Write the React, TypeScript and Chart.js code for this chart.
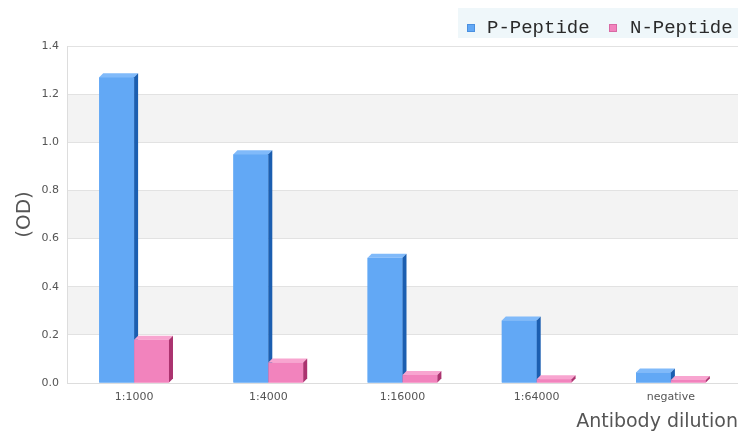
import React, { useEffect, useRef } from "react";
import { Chart, registerables } from "chart.js";

Chart.register(...registerables);

const categories = ["1:1000", "1:4000", "1:16000", "1:64000", "negative"];
const pPeptide = [1.27, 0.95, 0.52, 0.26, 0.044];
const nPeptide = [0.18, 0.085, 0.033, 0.016, 0.012];
const seriesNames = ["P-Peptide", "N-Peptide"];

const FRONT = ["#62a8f5", "#f283bd"];
const TOP = ["#80bafa", "#f8a5d0"];
const SIDE = ["#1b5eb0", "#ab336f"];
const MARKER_BORDER = ["#4a90e0", "#d86aa4"];
const DEPTH = 4;

const bandsPlugin = {
  id: "bands",
  beforeDraw(chart: any) {
    const { ctx, chartArea } = chart;
    const y = chart.scales.y;
    const ticks = y.ticks;
    ctx.save();
    ctx.fillStyle = "#f3f3f3";
    for (let i = 1; i < ticks.length - 1; i += 2) {
      const a = y.getPixelForValue(ticks[i].value);
      const b = y.getPixelForValue(ticks[i + 1].value);
      ctx.fillRect(chartArea.left, b, chartArea.right - chartArea.left, a - b);
    }
    ctx.restore();
  },
};

const legendPlugin = {
  id: "customLegend",
  afterDraw(chart: any) {
    const ctx = chart.ctx;
    ctx.save();
    ctx.fillStyle = "#eff7fa";
    ctx.fillRect(458, 8, chart.width - 458, 30);
    ctx.font = '19px "Liberation Mono"';
    ctx.textBaseline = "alphabetic";
    ctx.textAlign = "left";
    const markerX = [467, 609];
    const textX = [487, 630];
    chart.data.datasets.forEach((ds: any, i: number) => {
      ctx.fillStyle = FRONT[i];
      ctx.fillRect(markerX[i], 24, 8, 8);
      ctx.strokeStyle = MARKER_BORDER[i];
      ctx.lineWidth = 1;
      ctx.strokeRect(markerX[i] + 0.5, 24.5, 7, 7);
      ctx.fillStyle = "#2a2a2a";
      ctx.fillText(ds.label, textX[i], 32.5);
    });
    ctx.restore();
  },
};

const bar3dPlugin = {
  id: "bar3d",
  afterDatasetsDraw(chart: any) {
    const ctx = chart.ctx;
    const metas = chart.data.datasets.map((_: any, i: number) => chart.getDatasetMeta(i));
    const n = chart.data.labels.length;
    ctx.save();
    for (let j = 0; j < n; j++) {
      metas.forEach((meta: any, di: number) => {
        const el = meta.data[j];
        if (!el) return;
        const { x, y, base, width } = el.getProps(["x", "y", "base", "width"], true);
        const l = x - width / 2;
        const r = x + width / 2;
        const d = DEPTH;
        ctx.fillStyle = FRONT[di];
        ctx.fillRect(l, y, r - l, base - y);
        ctx.fillStyle = TOP[di];
        ctx.beginPath();
        ctx.moveTo(l, y);
        ctx.lineTo(l + d, y - d);
        ctx.lineTo(r + d, y - d);
        ctx.lineTo(r, y);
        ctx.closePath();
        ctx.fill();
        ctx.fillStyle = SIDE[di];
        ctx.beginPath();
        ctx.moveTo(r, y);
        ctx.lineTo(r + d, y - d);
        ctx.lineTo(r + d, base - d);
        ctx.lineTo(r, base);
        ctx.closePath();
        ctx.fill();
      });
    }
    ctx.restore();
  },
};

export default function App() {
  const ref = useRef<HTMLCanvasElement | null>(null);
  useEffect(() => {
    if (!ref.current) return;
    const chart = new Chart(ref.current, {
      type: "bar",
      data: {
        labels: categories,
        datasets: [
          { label: seriesNames[0], data: pPeptide, backgroundColor: FRONT[0] },
          { label: seriesNames[1], data: nPeptide, backgroundColor: FRONT[1] },
        ],
      },
      options: {
        animation: false,
        responsive: false,
        maintainAspectRatio: false,
        layout: { padding: { top: 46, right: 0, left: 0, bottom: 0 } },
        datasets: { bar: { categoryPercentage: 0.52, barPercentage: 1 } },
        plugins: {
          tooltip: { enabled: false },
          legend: { display: false },
        },
        scales: {
          x: {
            afterFit: (s: any) => {
              s.height = 50;
            },
            grid: { display: false, drawTicks: false },
            border: { display: true, color: "#dddddd" },
            ticks: { color: "#555", font: { family: "DejaVu Sans", size: 11 }, padding: 8 },
            title: {
              display: true,
              text: "Antibody dilution",
              align: "end",
              color: "#555",
              font: { family: "DejaVu Sans", size: 19 },
              padding: { top: 0, bottom: 0 },
            },
          },
          y: {
            min: 0,
            max: 1.4,
            afterFit: (s: any) => {
              s.width = 67;
            },
            ticks: {
              stepSize: 0.2,
              color: "#555",
              font: { family: "DejaVu Sans", size: 11 },
              padding: 8,
              callback: (v: any) => Number(v).toFixed(1),
            },
            grid: { color: "#e2e2e2", drawTicks: false },
            border: { display: true, color: "#dddddd" },
            title: {
              display: true,
              text: "(OD)",
              color: "#555",
              font: { family: "DejaVu Sans", size: 20 },
              padding: { top: 13, bottom: 0 },
            },
          },
        },
      },
      plugins: [bandsPlugin, bar3dPlugin, legendPlugin],
    });
    return () => chart.destroy();
  }, []);
  return (
    <div style={{ position: "fixed", left: 0, top: 0, width: 738, height: 433, background: "#fff" }}>
      <canvas ref={ref} width={738} height={433} style={{ width: 738, height: 433 }} />
    </div>
  );
}
